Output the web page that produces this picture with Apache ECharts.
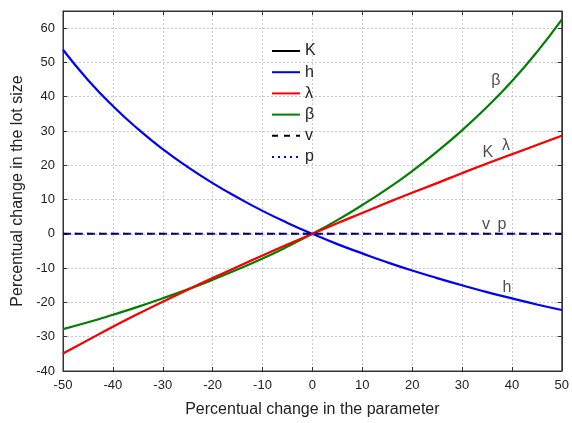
<!DOCTYPE html>
<html><head><meta charset="utf-8">
<script src="https://cdn.jsdelivr.net/npm/echarts@6/dist/echarts.min.js"></script>
<style>html,body{margin:0;padding:0;background:#fff}#c{width:572px;height:423px}</style>
</head><body><div id="c"></div>
<script>
const xs = [-50,-45,-40,-35,-30,-25,-20,-15,-10,-5,0,5,10,15,20,25,30,35,40,45,50];
const hVals = [53.7,44.9,37.3,30.6,24.7,19.5,14.8,10.6,6.7,3.2,0,-3.0,-5.7,-8.3,-10.7,-12.9,-15.0,-17.0,-18.8,-20.6,-22.2];
const lambdaVals = [-34.9,-31.0,-27.1,-23.4,-19.8,-16.3,-12.9,-9.6,-6.3,-3.1,0,3.1,6.1,9.1,12.0,14.8,17.7,20.5,23.2,25.9,28.6];
const kVals = lambdaVals.slice();
const betaVals = [-27.8,-25.8,-23.6,-21.3,-18.8,-16.2,-13.4,-10.4,-7.2,-3.7,0,4.0,8.4,13.1,18.3,24.0,30.2,37.0,44.5,53.0,62.5];
const vVals = [0,0,0,0,0,0,0,0,0,0,0,0,0,0,0,0,0,0,0,0,0];
const pVals = [0,0,0,0,0,0,0,0,0,0,0,0,0,0,0,0,0,0,0,0,0];
const xTicks = [-50,-40,-30,-20,-10,0,10,20,30,40,50];
const yTicks = [-40,-30,-20,-10,0,10,20,30,40,50,60];
const annotations = [
  {text:'β', x:36.8, y:44.8},
  {text:'K', x:35.2, y:23.8},
  {text:'λ', x:38.8, y:25.6},
  {text:'v', x:34.8, y:2.8},
  {text:'p', x:38.0, y:2.8},
  {text:'h', x:39.0, y:-15.6}
];
const pair = a => xs.map((x,i)=>[x,a[i]]);
const font = 'Liberation Sans, Arial, sans-serif';
const chart = echarts.init(document.getElementById('c'));
const gridLine = {show:true, lineStyle:{color:'#c8c8c8', type:[2,2], width:1}};
const mkLine = (name, data, color, type, width, z) => ({
  name, type:'line', data:pair(data), showSymbol:false, symbol:'none', smooth:true, z,
  lineStyle:{color, width, type}, itemStyle:{color}, animation:false
});
const series = [
  mkLine('K', kVals, '#000000', 'solid', 1.2, 2),
  mkLine('h', hVals, '#0000ff', 'solid', 2.2, 3),
  mkLine('λ', lambdaVals, '#ff0000', 'solid', 2.2, 4),
  mkLine('β', betaVals, '#008000', 'solid', 2.2, 3),
  mkLine('v', vVals, '#000000', [6,6], 2, 5),
  mkLine('p', pVals, '#0000ff', [2,4], 2, 6)
];
series.push({
  type:'scatter', name:'ann', data: annotations.map(a=>({value:[a.x,a.y], label:{formatter:a.text}})),
  symbolSize:0, z:10, silent:true,
  label:{show:true, position:'inside', color:'#222', fontFamily:font, fontSize:16}
});
const axLine = {show:true, onZero:false, lineStyle:{color:'#333'}};
const axTick = {show:true, inside:true, length:4, lineStyle:{color:'#333'}};
chart.setOption({
  animation:false,
  backgroundColor:'#fff',
  grid:{left:63, right:8, top:11, bottom:51, show:true, borderColor:'#333', borderWidth:1},
  legend:{
    data:['K','h','λ','β','v','p'], orient:'vertical', left:266, top:38,
    itemWidth:28, itemHeight:10, itemGap:5.2,
    itemStyle:{opacity:0},
    textStyle:{fontFamily:font, fontSize:16, color:'#222'}
  },
  xAxis:[{
    type:'value', min:-50, max:50, interval:10,
    name:'Percentual change in the parameter', nameLocation:'middle', nameGap:31,
    nameTextStyle:{fontFamily:font, fontSize:16, color:'#222'},
    axisLine:axLine, axisTick:axTick,
    axisLabel:{fontFamily:font, fontSize:13, color:'#222', margin:8},
    splitLine:gridLine
  },{
    type:'value', min:-50, max:50, interval:10, position:'top',
    axisLine:axLine, axisTick:axTick,
    axisLabel:{show:false}, splitLine:{show:false}
  }],
  yAxis:[{
    type:'value', min:-40, max:65, interval:10,
    name:'Percentual change in the lot size', nameLocation:'middle', nameGap:34,
    nameTextStyle:{fontFamily:font, fontSize:16, color:'#222'},
    axisLine:axLine, axisTick:axTick,
    axisLabel:{fontFamily:font, fontSize:13, color:'#222', margin:8,
      formatter:v => yTicks.includes(v) ? String(v) : ''},
    splitLine:gridLine
  },{
    type:'value', min:-40, max:65, interval:10, position:'right',
    axisLine:axLine, axisTick:axTick,
    axisLabel:{show:false}, splitLine:{show:false}
  }],
  series
});
</script></body></html>
